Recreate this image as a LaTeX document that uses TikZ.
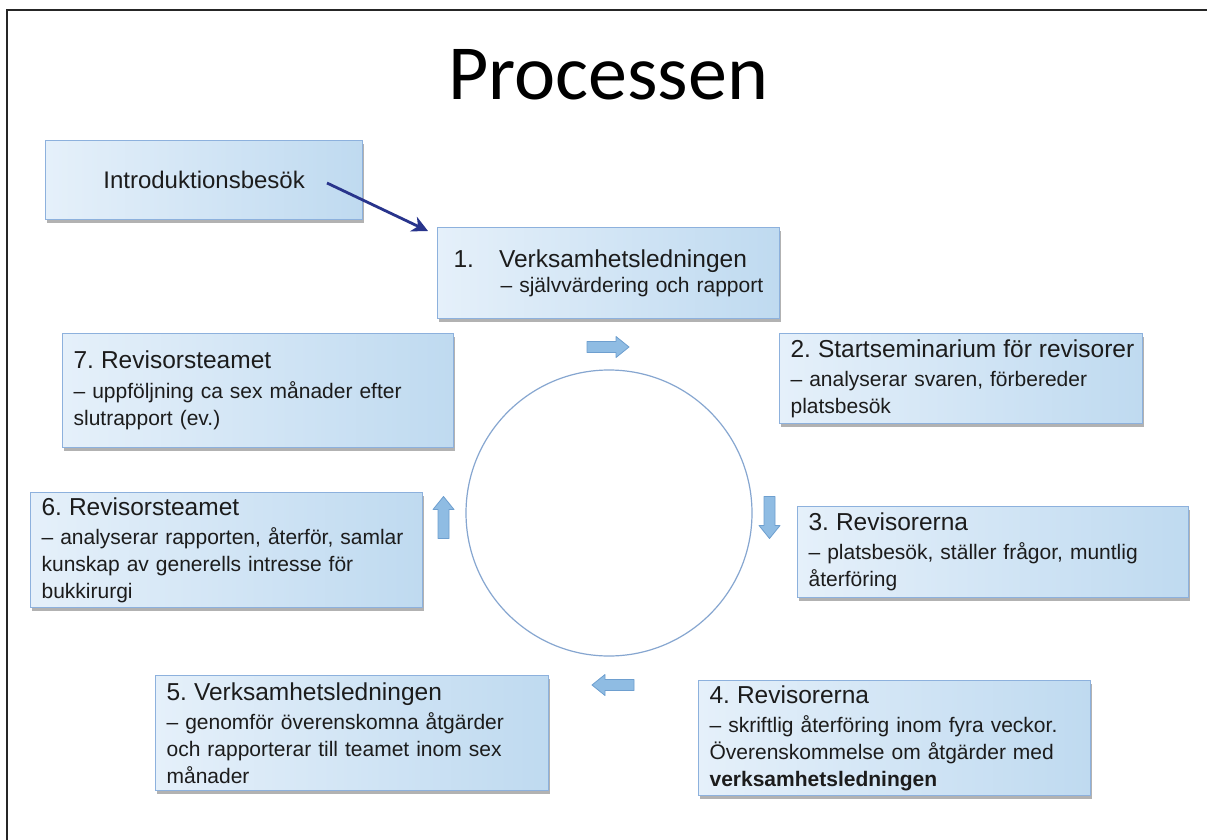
\documentclass[tikz,border=0pt]{standalone}
\usepackage{fontspec}
\setmainfont{Liberation Sans}
\newfontfamily\titlefont{Carlito}
\usetikzlibrary{shadows,arrows.meta}
\definecolor{boxborder}{HTML}{8DB1DD}
\definecolor{boxleft}{HTML}{E5F0FA}
\definecolor{boxright}{HTML}{BFDAF0}
\definecolor{txt}{HTML}{1C1C1C}
\definecolor{navy}{HTML}{28348C}
\definecolor{arrfill}{HTML}{8FBCE3}
\definecolor{arrdraw}{HTML}{6E9FCF}
\definecolor{circ}{HTML}{86A6D0}
\newcommand{\hdf}{\fontsize{24.5}{27}\selectfont}
\newcommand{\sbf}{\fontsize{21}{27}\selectfont}
\newcommand{\hd}[1]{\mbox{\hdf #1}}
\frenchspacing
\tikzset{
  box/.style={draw=boxborder, line width=1.2pt, left color=boxleft, right color=boxright,
    anchor=north west, align=left, inner xsep=11pt, inner ysep=0pt, text=txt, font=\sbf\frenchspacing,
    drop shadow={shadow xshift=1pt, shadow yshift=-3pt, fill=black, opacity=0.3}},
  barrowstyle/.style={fill=arrfill, draw=arrdraw, line width=0.8pt, line join=round},
  barrow/.pic={\path[barrowstyle] (-21,-5.5) -- (8,-5.5) -- (8,-10.5) -- (21,0) -- (8,10.5) -- (8,5.5) -- (-21,5.5) -- cycle;},
}
\begin{document}
\begin{tikzpicture}[x=1pt,y=-1pt]
\useasboundingbox (0,0) rectangle (1207,840);
\fill[white] (0,0) rectangle (1207,840);
\draw[line width=2pt, color=black!85] (1207,10) -- (7,10) -- (7,840);

\node[anchor=base, text=black, font=\titlefont\fontsize{78}{80}\selectfont] (title) at (608,100) {Processen};

\node[box, minimum width=317pt, minimum height=79pt, text width=295pt, align=center, font=\fontsize{24}{28}\selectfont] (intro) at (45,140) {Introduktionsbesök};

\node[box, minimum width=342pt, minimum height=91pt, text width=320pt] (b1) at (437,227)
  {\hspace*{5pt}\hd{1.\hspace{25pt}Verksamhetsledningen}\\[-2pt]\hspace*{52pt}– självvärdering och rapport};

\node[box, minimum width=363pt, minimum height=90pt, text width=341pt] (b2) at (779,333)
  {\hd{2. Startseminarium för revisorer}\\[2pt]– analyserar svaren, förbereder\\platsbesök};

\node[box, minimum width=391pt, minimum height=91pt, text width=369pt] (b3) at (797,506)
  {\hd{3. Revisorerna}\\[2pt]– platsbesök, ställer frågor, muntlig\\återföring};

\node[box, minimum width=392pt, minimum height=115pt, text width=370pt] (b4) at (698,680)
  {\hd{4. Revisorerna}\\[2pt]– skriftlig återföring inom fyra veckor.\\Överenskommelse om åtgärder med\\\textbf{verksamhetsledningen}};

\node[box, minimum width=393pt, minimum height=115pt, text width=371pt] (b5) at (155,675)
  {\hd{5. Verksamhetsledningen}\\[2pt]– genomför överenskomna åtgärder\\och rapporterar till teamet inom sex\\månader};

\node[box, minimum width=392pt, minimum height=115pt, text width=370pt] (b6) at (30,492)
  {\hd{6. Revisorsteamet}\\[2pt]– analyserar rapporten, återför, samlar\\kunskap av generells intresse för\\bukkirurgi};

\node[box, minimum width=391pt, minimum height=114pt, text width=369pt] (b7) at (62,333)
  {\hd{7. Revisorsteamet}\\[3pt]– uppföljning ca sex månader efter\\slutrapport (ev.)};

\node[circle, draw=circ, line width=1.2pt, fill=white, minimum size=286pt, inner sep=0pt] (c) at (609,513) {};

\pic at (608,347) {barrow};
\pic[rotate=-90] at (769.5,517.5) {barrow};
\pic[rotate=180] at (613,685) {barrow};
\pic[rotate=90] at (443.5,517.5) {barrow};

\coordinate (s) at (327,183);
\coordinate (e) at (428,231);
\draw[navy, line width=2.8pt, -{Stealth[length=16pt,width=16pt,inset=5pt]}] (s) -- (e);
\end{tikzpicture}
\end{document}
